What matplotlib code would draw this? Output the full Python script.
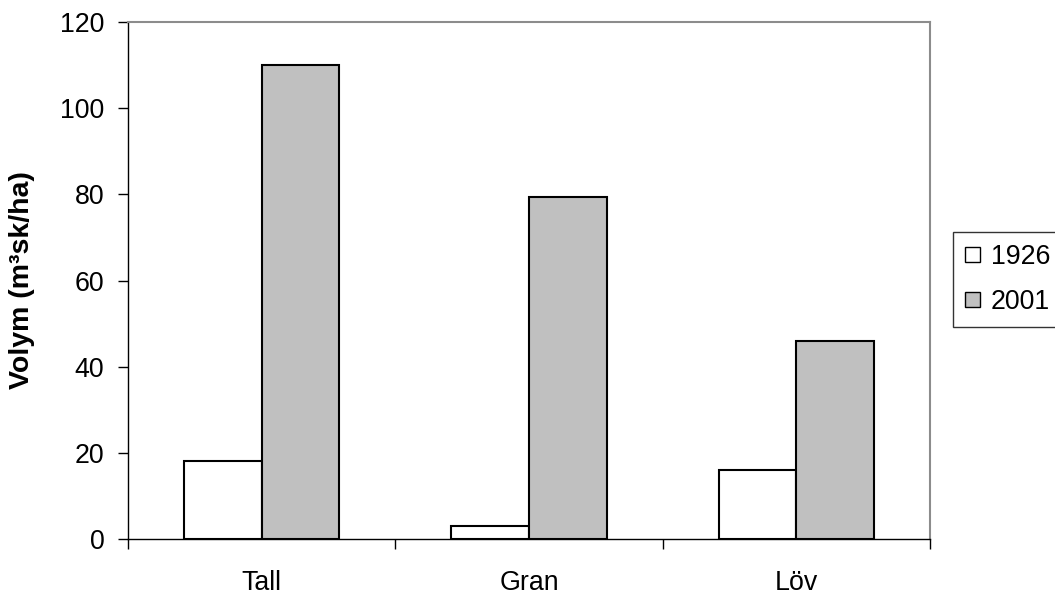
import matplotlib
matplotlib.use("Agg")
import matplotlib.pyplot as plt
import numpy as np

categories = ["Tall", "Gran", "Löv"]
series_names = ["1926", "2001"]
v1926 = [18, 3, 16]
v2001 = [110, 79.5, 46]
yticks = [0, 20, 40, 60, 80, 100, 120]

plt.rcParams['font.family'] = ['Liberation Sans', 'DejaVu Sans']
FS = 19.3

fig = plt.figure(figsize=(10.55, 5.97), dpi=100)
ax = fig.add_axes([0.1213, 0.0972, 0.7602, 0.8658])

x = np.arange(len(categories))
w = 0.29
ax.bar(x - w/2, v1926, w, color="white", edgecolor="black", linewidth=1.5, label=series_names[0])
ax.bar(x + w/2, v2001, w, color="#c0c0c0", edgecolor="black", linewidth=1.5, label=series_names[1])

ax.set_xlim(-0.5, len(categories) - 0.5)
ax.set_ylim(0, 120)
ax.set_yticks(yticks)
ax.tick_params(axis='y', labelsize=FS, direction='out', length=7, width=1, pad=10)
ax.set_xticks(np.arange(-0.5, len(categories), 1.0))
ax.set_xticklabels([])
ax.set_xticks(x, minor=True)
ax.set_xticklabels(categories, minor=True, fontsize=FS)
ax.tick_params(axis='x', which='major', direction='out', length=7, width=1)
ax.tick_params(axis='x', which='minor', length=0, pad=22)

for s in ['top', 'right']:
    ax.spines[s].set_color('#8c8c8c')
    ax.spines[s].set_linewidth(1.5)
for s in ['left', 'bottom']:
    ax.spines[s].set_color('black')
    ax.spines[s].set_linewidth(1)

ax.set_ylabel("Volym (m³sk/ha)", fontsize=20.5, fontweight='bold')
ax.yaxis.set_label_coords(-0.116, 0.5)

leg = fig.legend(loc='upper left', bbox_to_anchor=(953/1055, 1 - 232/597), fontsize=FS,
                 frameon=True, fancybox=False, edgecolor='black', handlelength=0.57,
                 handleheight=0.5, handletextpad=0.38, borderpad=0.45, labelspacing=0.72,
                 borderaxespad=0)
leg.get_frame().set_linewidth(1)
for h in leg.legend_handles:
    h.set_linewidth(1)

fig.savefig("out.png", dpi=100)
